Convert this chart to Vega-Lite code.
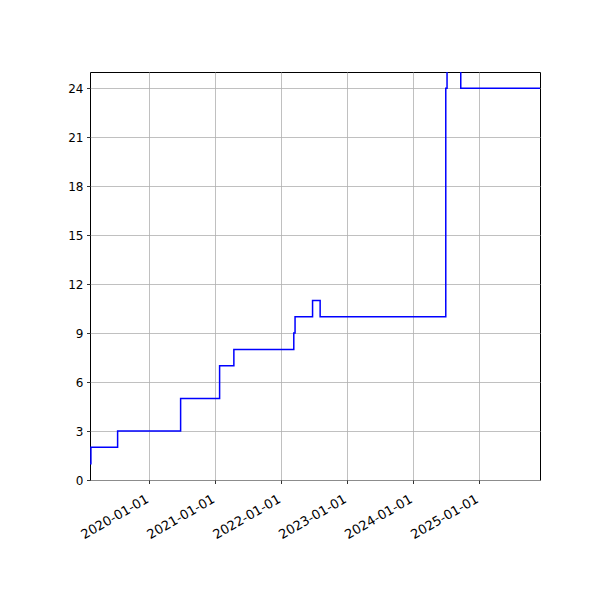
{
  "$schema": "https://vega.github.io/schema/vega-lite/v6.json",
  "width": 450,
  "height": 408,
  "autosize": "none",
  "padding": {"left": 90, "top": 72, "right": 60, "bottom": 120},
  "background": "white",
  "data": {
    "values": [
      {"date": "2019-02-07", "count": 1},
      {"date": "2019-02-12", "count": 2},
      {"date": "2019-07-10", "count": 3},
      {"date": "2020-06-23", "count": 5},
      {"date": "2021-01-25", "count": 7},
      {"date": "2021-04-14", "count": 8},
      {"date": "2022-03-12", "count": 9},
      {"date": "2022-03-19", "count": 10},
      {"date": "2022-06-24", "count": 11},
      {"date": "2022-08-05", "count": 10},
      {"date": "2024-07-01", "count": 24},
      {"date": "2024-07-08", "count": 26},
      {"date": "2024-09-22", "count": 24},
      {"date": "2025-12-05", "count": 24}
    ]
  },
  "mark": {"type": "line", "interpolate": "step-after", "color": "#0000ff", "strokeWidth": 1.5, "clip": true},
  "encoding": {
    "x": {
      "field": "date", "type": "temporal",
      "scale": {"domain": ["2019-02-07", "2025-12-05"], "nice": false},
      "axis": {
        "title": null,
        "values": [
          {"year": 2020, "month": 1, "date": 1},
          {"year": 2021, "month": 1, "date": 1},
          {"year": 2022, "month": 1, "date": 1},
          {"year": 2023, "month": 1, "date": 1},
          {"year": 2024, "month": 1, "date": 1},
          {"year": 2025, "month": 1, "date": 1}
        ],
        "format": "%Y-%m-%d",
        "labelFontSize": 13,
        "labelAngle": -30,
        "labelAlign": "right",
        "labelBaseline": "top",
        "labelOverlap": false,
        "labelOffset": -5,
        "labelPadding": 9
      }
    },
    "y": {
      "field": "count", "type": "quantitative",
      "scale": {"domain": [0, 25], "nice": false},
      "axis": {"title": null, "values": [0, 3, 6, 9, 12, 15, 18, 21, 24]}
    }
  },
  "config": {
    "view": {"stroke": "black", "strokeWidth": 1},
    "axis": {
      "labelFont": "DejaVu Sans",
      "labelFontSize": 12,
      "labelColor": "black",
      "domain": false,
      "grid": true,
      "gridColor": "#b0b0b0",
      "gridWidth": 0.8,
      "gridOpacity": 1,
      "tickColor": "black",
      "tickSize": 3.5,
      "tickWidth": 0.8,
      "labelPadding": 3.5
    }
  }
}
